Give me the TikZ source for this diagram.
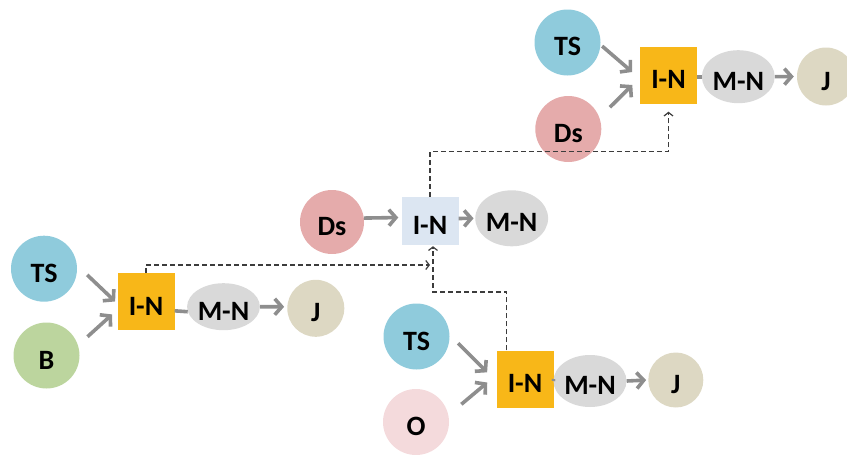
\documentclass[tikz,border=0pt]{standalone}
\usepackage{fontspec}
\setmainfont{Carlito}
\usetikzlibrary{arrows.meta,shapes.geometric}

\definecolor{tsblue}{HTML}{8FCBDC}
\definecolor{bgreen}{HTML}{BCD59E}
\definecolor{dspink}{HTML}{E5ABAB}
\definecolor{opink}{HTML}{F4DADC}
\definecolor{inorange}{HTML}{F8B718}
\definecolor{inblue}{HTML}{DCE6F2}
\definecolor{mngray}{HTML}{D9D9D9}
\definecolor{jbeige}{HTML}{DDD8C3}
\definecolor{flowgray}{HTML}{8E8E8E}
\definecolor{dashgray}{HTML}{3C3C3C}

\begin{document}
\begin{tikzpicture}[x=1pt,y=-1pt,
  every node/.style={font=\fontsize{28}{30}\selectfont\bfseries, text=black,
    inner sep=0pt, text height=27pt, text depth=0pt},
  disc/.style={circle, minimum size=66pt},
  tsdisc/.style={disc, fill=tsblue},
  jdisc/.style={circle, minimum size=57pt, fill=jbeige},
  inbox/.style={rectangle, minimum width=57pt, minimum height=57pt, fill=inorange},
  mnell/.style={ellipse, minimum width=70pt, minimum height=53pt, fill=mngray},
  flow/.style={draw=flowgray, line width=3.6pt, -{Straight Barb[length=7pt,width=16pt]}},
  link/.style={draw=flowgray, line width=3.6pt},
  feed/.style={draw=dashgray, line width=1.2pt, dash pattern=on 5pt off 3pt,
    -{Straight Barb[length=3.5pt,width=9pt]}},
]
\useasboundingbox (0,0) rectangle (847,455);

% lower-left chain
\node[tsdisc] (TS1) at (44,268.7) {TS};
\node[disc, fill=bgreen] (B1) at (46.5,355.5) {B};
\node[inbox] (IN1) at (146,301.5) {I-N};
\node[mnell, minimum width=67pt, minimum height=47pt] (MN1) at (223.5,306.7) {M-N};
\node[jdisc] (J1) at (315.8,308.3) {J};

% middle chain
\node[disc, fill=dspink, minimum size=64pt] (DS2) at (332,222) {Ds};
\node[inbox, fill=inblue, minimum height=48pt] (IN2) at (430,221) {I-N};
\node[mnell, minimum height=56pt] (MN2) at (511.7,218.3) {M-N};

% upper chain
\node[tsdisc] (TS3) at (567.5,42.5) {TS};
\node[disc, fill=dspink] (DS3) at (568.3,129) {Ds};
\node[inbox] (IN3) at (668.5,75) {I-N};
\node[mnell] (MN3) at (738.3,76.7) {M-N};
\node[jdisc, minimum size=58pt] (J3) at (826,76.5) {J};

% lower chain
\node[tsdisc] (TS4) at (416.5,336.5) {TS};
\node[disc, fill=opink] (O4) at (416,422) {O};
\node[inbox] (IN4) at (525,379) {I-N};
\node[mnell, minimum width=73pt, minimum height=52pt] (MN4) at (590,381) {M-N};
\node[jdisc, minimum size=55pt] (J4) at (675.8,380) {J};

% inputs into the I-N boxes
\draw[flow, shorten <=14pt, shorten >=3pt] (TS1.6) -- (IN1.184);
\draw[flow, shorten <=12.7pt, shorten >=7pt] (B1.18) -- (IN1.196);
\draw[flow, shorten <=0pt, shorten >=3pt] (DS2.7) -- (IN2.173);
\draw[flow, shorten <=2pt, shorten >=10pt] (TS3.-4) -- (IN3.187);
\draw[flow, shorten <=14.7pt, shorten >=10.6pt] (DS3.20) -- (IN3.185);
\draw[flow, shorten <=12pt, shorten >=13pt] (TS4.3) -- (IN4.185);
\draw[flow, shorten <=16.8pt, shorten >=11.8pt] (O4.12) -- (IN4.172);

% I-N to M-N to J
\draw[link] (IN1.-18) -- (MN1.188);
\draw[flow, shorten >=3pt] (MN1.east) -- (J1.177);
\draw[flow, shorten >=1.5pt] (IN2.5) -- (MN2.west);
\draw[link] (IN3.east |- MN3.west) -- (MN3.west);
\draw[flow, shorten >=3pt] (MN3.east) -- (J3.west);
\draw[link] (IN4.east) -- (MN4.west);
\draw[flow, shorten >=2pt] (MN4.east) -- (J4.west);

% dashed feedback paths
\coordinate (m1) at (430,265);
\coordinate (k2) at (433,292);
\coordinate (k3) at (0,151.7);
\draw[feed] (IN1.north) |- (m1);
\draw[feed, shorten >=1pt] ([xshift=10pt]IN4.north west) |- (k2) -- ([xshift=3pt]IN2.south);
\draw[feed, shorten >=8pt] (IN2.north) |- (IN3.south |- k3) -- (IN3.south);
\end{tikzpicture}
\end{document}
